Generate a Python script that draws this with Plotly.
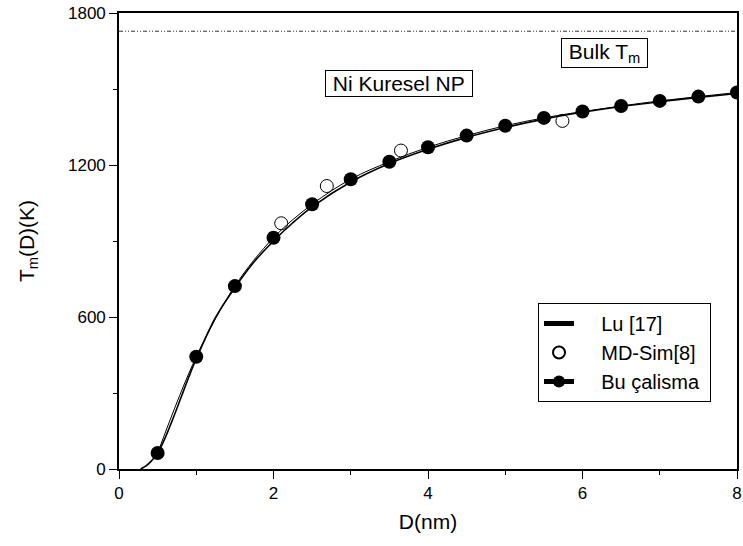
import plotly.graph_objects as go

# Lu [17] model curve
lu_x = [0.28, 0.35, 0.42, 0.5, 0.6, 0.7, 0.8, 0.9, 1.0, 1.25, 1.5, 1.75, 2.0, 2.25, 2.5,
        3.0, 3.5, 4.0, 4.5, 5.0, 5.5, 6.0, 6.5, 7.0, 7.5, 8.0]
lu_y = [0, 12, 32, 62, 125, 200, 280, 360, 435, 598, 716, 818, 900, 972, 1035,
        1133, 1206, 1262, 1309, 1348, 1381, 1408, 1431, 1450, 1467, 1482]

# MD-Sim[8]
md_x = [2.1, 2.69, 3.65, 5.74]
md_y = [970, 1117, 1257, 1374]

# Bu çalisma
bu_x = [0.5, 1.0, 1.5, 2.0, 2.5, 3.0, 3.5, 4.0, 4.5, 5.0, 5.5, 6.0, 6.5, 7.0, 7.5, 8.0]
bu_y = [63, 443, 722, 913, 1045, 1144, 1213, 1270, 1316, 1355, 1386, 1411, 1433, 1453, 1470, 1486]

bulk_tm = 1728

FONT = "Liberation Sans, Arial, sans-serif"
PAD = "&nbsp;&nbsp;&nbsp;&nbsp;"

fig = go.Figure()
fig.add_trace(go.Scatter(x=[0, 8], y=[bulk_tm, bulk_tm], mode="lines",
                         line=dict(color="black", width=0.8, dash="4px,2px,1px,2px,1px,2px"),
                         showlegend=False, hoverinfo="skip"))
fig.add_trace(go.Scatter(x=lu_x, y=lu_y, mode="lines", name=PAD + "Lu [17]",
                         line=dict(color="black", width=1.6, shape="spline")))
fig.add_trace(go.Scatter(x=md_x, y=md_y, mode="markers", name=PAD + "MD-Sim[8]",
                         marker=dict(symbol="circle-open", size=13, color="black",
                                     line=dict(width=1, color="black"))))
fig.add_trace(go.Scatter(x=bu_x, y=bu_y, mode="lines+markers", name=PAD + "Bu çalisma&nbsp;",
                         line=dict(color="black", width=1, shape="spline"),
                         marker=dict(symbol="circle", size=14, color="black")))

fig.add_annotation(x=3.62, y=1521, text="&nbsp;Ni Kuresel NP&nbsp;", showarrow=False,
                   font=dict(family=FONT, size=21, color="black"),
                   bordercolor="black", borderwidth=1, borderpad=1, bgcolor="white")
fig.add_annotation(x=6.28, y=1642, text="&nbsp;Bulk T<sub>m</sub>&nbsp;", showarrow=False,
                   font=dict(family=FONT, size=21, color="black"),
                   bordercolor="black", borderwidth=1, borderpad=1, bgcolor="white")

axis_common = dict(showgrid=False, zeroline=False, showline=True, linecolor="black",
                   linewidth=1.6, mirror=True, ticks="outside", ticklen=8, tickwidth=1.2,
                   tickcolor="black",
                   tickfont=dict(family=FONT, size=17, color="black"))

fig.update_xaxes(range=[0, 8], tickvals=[0, 2, 4, 6, 8],
                 minor=dict(tickvals=[1, 3, 5, 7], ticks="outside", ticklen=4, tickcolor="black"),
                 title=dict(text="D(nm)", font=dict(family=FONT, size=21, color="black"),
                            standoff=12),
                 **axis_common)
fig.update_yaxes(range=[0, 1800], tickvals=[0, 600, 1200, 1800],
                 minor=dict(tickvals=[300, 900, 1500], ticks="outside", ticklen=4, tickcolor="black"),
                 title=dict(text="T<sub>m</sub>(D)(K)", font=dict(family=FONT, size=21, color="black"),
                            standoff=28),
                 **axis_common)

fig.update_layout(
    width=743, height=546,
    margin=dict(l=119, r=6, t=13, b=77, autoexpand=False),
    plot_bgcolor="white", paper_bgcolor="white",
    legend=dict(x=0.678, y=0.364, xanchor="left", yanchor="top",
                bordercolor="black", borderwidth=1, bgcolor="white",
                font=dict(family=FONT, size=20, color="black"),
                tracegroupgap=0, itemsizing="constant"),
)

fig.write_html("out.html", config={"displayModeBar": False},
               post_script="document.body.style.margin='0';document.body.style.overflow='hidden';")
